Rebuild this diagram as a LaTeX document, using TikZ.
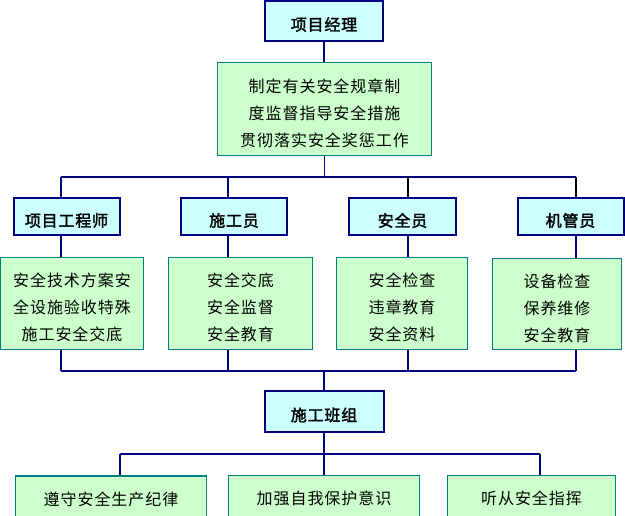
\documentclass[tikz,border=0pt]{standalone}
\usepackage{fontspec}
\newfontfamily\cjk[LetterSpace=6]{Noto Sans CJK SC}
\newfontfamily\cjkb[LetterSpace=5,FakeBold=2]{Noto Sans CJK SC}
\definecolor{navy}{HTML}{000080}
\definecolor{tealb}{HTML}{008080}
\definecolor{lblue}{HTML}{CCFFFF}
\definecolor{lgreen}{HTML}{CCFFCC}
\tikzset{
  titletext/.style={font=\cjkb\fontsize{16}{20}\selectfont, inner sep=0pt, yshift=-3.5pt},
  titlebox/.style={draw=navy, line width=2pt, fill=lblue, inner sep=0pt,
    label={[titletext]center:{#1}}},
  dutytext/.style={font=\cjk\fontsize{16}{27}\selectfont, align=center, inner sep=0pt, yshift=-4pt},
  dutybox/.style={draw=tealb, line width=1.5pt, fill=lgreen, inner sep=0pt,
    label={[dutytext]center:{#1}}},
  linetext/.style={font=\cjk\fontsize{16}{27}\selectfont, inner sep=0pt, yshift=-1.5pt},
  linebox/.style={draw=tealb, line width=1.5pt, fill=lgreen, inner sep=0pt,
    label={[linetext]center:{#1}}},
  bus/.style={navy, line width=2pt},
  link/.style={navy, line width=1.2pt},
  linkk/.style={black, line width=1.2pt}
}
\begin{document}
\begin{tikzpicture}[x=1pt,y=-1pt]
\path[use as bounding box, clip] (0,0) rectangle (625,516);
\fill[white] (0,0) rectangle (625,516);
% top
\node[titlebox={项目经理}, minimum width=118pt, minimum height=40pt] (pm) at (324,21) {};
\node[dutybox={制定有关安全规章制\\度监督指导安全措施\\贯彻落实安全奖惩工作},
  minimum width=214pt, minimum height=93pt] (g0) at (324.5,109) {};
% row 2
\node[titlebox={项目工程师}, minimum width=106pt, minimum height=37pt] (e1) at (66.5,217) {};
\node[titlebox={施工员}, minimum width=106pt, minimum height=37pt] (e2) at (234,217) {};
\node[titlebox={安全员}, minimum width=107pt, minimum height=37pt] (e3) at (402.5,217) {};
\node[titlebox={机管员}, minimum width=106pt, minimum height=37pt] (e4) at (570.5,217) {};
% row 3
\node[dutybox={安全技术方案安\\全设施验收特殊\\施工安全交底},
  minimum width=143pt, minimum height=92pt] (g1) at (72,303.5) {};
\node[dutybox={安全交底\\安全监督\\安全教育},
  minimum width=144pt, minimum height=92pt] (g2) at (240.5,303.5) {};
\node[dutybox={安全检查\\违章教育\\安全资料},
  minimum width=131pt, minimum height=92pt] (g3) at (402,303.5) {};
\node[dutybox={设备检查\\保养维修\\安全教育},
  minimum width=129pt, minimum height=91pt] (g4) at (557,304) {};
% team
\node[titlebox={施工班组}, minimum width=119pt, minimum height=40pt] (team) at (324,411.5) {};
% bottom
\node[linebox={遵守安全生产纪律}, minimum width=191pt, minimum height=43pt] (b1) at (111,497.5) {};
\node[linebox={加强自我保护意识}, minimum width=191pt, minimum height=43pt] (b2) at (324,497) {};
\node[linebox={听从安全指挥}, minimum width=168pt, minimum height=43pt] (b3) at (531.5,497) {};
% junctions
\coordinate (j1) at (61,177);
\coordinate (j2) at (228,177);
\coordinate (j3) at (408,177);
\coordinate (j4) at (576,177);
\coordinate (k1) at (61,371);
\coordinate (k2) at (228,371);
\coordinate (k3) at (408,371);
\coordinate (k4) at (576,371);
\coordinate (k0) at (324,371);
\coordinate (m1) at (120,454);
\coordinate (m0) at (324,454);
\coordinate (m3) at (540,454);
% connectors
\draw[link] (pm.south) -- (pm.south |- g0.north);
\draw[link] (g0.south) -- (g0.south |- j1);
\draw[bus] (j1) -- (j4);
\draw[link] (j1) -- (j1 |- e1.north);
\draw[link] (j2) -- (j2 |- e2.north);
\draw[linkk] (j3) -- (j3 |- e3.north);
\draw[linkk] (j4) -- (j4 |- e4.north);
\foreach \i in {1,2,3,4}{
  \draw[link] (j\i |- e\i.south) -- (j\i |- g\i.north);
  \draw[link] (j\i |- g\i.south) -- (k\i);
}
\draw[bus] (k1) -- (k4);
\draw[link] (k0) -- (team.north);
\draw[link] (team.south) -- (m0);
\draw[bus] (m1) -- (m3);
\draw[link] (m1) -- (m1 |- b1.north);
\draw[link] (m0) -- (b2.north);
\draw[link] (m3) -- (m3 |- b3.north);
\end{tikzpicture}
\end{document}
